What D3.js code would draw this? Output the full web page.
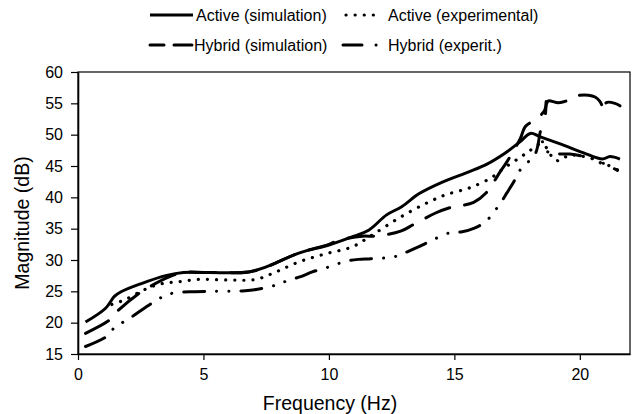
<!DOCTYPE html>
<html><head><meta charset="utf-8">
<script src="https://cdn.jsdelivr.net/npm/d3@7"></script>
<style>
html,body{margin:0;padding:0;background:#fff;}
svg{display:block;font-family:"Liberation Sans",Arial,sans-serif;}
</style></head><body>
<svg id="c" width="633" height="414"></svg>
<script>
// ---- data ----
const seriesNames = ["Active (simulation)", "Active (experimental)", "Hybrid (simulation)", "Hybrid (experit.)"];
const xTicks = [0, 5, 10, 15, 20];
const yTicks = [15, 20, 25, 30, 35, 40, 45, 50, 55, 60];

const activeSim = [[0.3,20.1],[1.1,22.3],[1.45,24.2],[1.7,24.9],[2.5,26.2],[3.5,27.5],[4.2,28.0],[5.2,28.0],[6.8,28.1],[7.5,28.9],[8.8,31.1],[10.0,32.4],[11.0,33.8],[11.6,34.8],[12.3,37.2],[12.9,38.5],[13.6,40.6],[14.5,42.4],[15.6,44.1],[16.3,45.3],[17.0,47.0],[17.6,48.8],[18.03,50.2],[18.4,49.7],[19.3,48.4],[20.15,47.1],[20.9,46.1],[21.2,46.5],[21.6,46.1]];
const activeExp = [[1.35,22.9],[1.84,23.6],[2.37,24.7],[2.9,25.7],[3.43,26.3],[3.96,26.5],[4.8,26.9],[6.16,26.8],[7.09,26.9],[7.89,28.1],[8.81,29.7],[9.88,31.0],[10.93,32.1],[11.73,34.0],[12.79,36.7],[13.85,39.0],[14.65,40.4],[15.6,41.5],[16.5,43.2],[17.03,44.8],[17.56,46.2],[17.96,47.3],[18.43,48.5],[18.7,47.8],[18.95,46.1],[19.2,45.85],[19.55,46.7],[20.0,46.6],[20.5,46.2],[20.88,45.4],[21.2,45.0],[21.5,44.4]];
const hybridSim = [[0.3,18.3],[1.25,20.4],[1.55,21.75],[2.44,24.7],[2.84,25.7],[3.63,27.3],[4.2,28.0],[5.2,28.0],[6.8,28.1],[7.5,28.9],[8.8,31.1],[10.0,32.5],[10.34,33.1],[11.33,33.8],[11.87,33.8],[12.86,34.6],[13.39,35.7],[14.25,37.5],[14.78,38.3],[15.77,39.2],[16.24,40.6],[16.83,44.1],[17.1,45.7],[17.63,49.4],[17.83,51.3],[18.3,52.6],[18.6,53.9],[18.66,55.3],[18.62,52.6],[18.68,55.0],[18.75,55.4],[19.15,55.1],[19.55,55.5],[19.88,56.2],[20.35,56.3],[20.61,56.0],[20.8,55.3],[21.0,53.8],[21.05,55.1],[21.4,55.0],[21.6,54.6]];
const hybridExp = [[0.3,16.2],[1.18,17.9],[1.49,19.4],[1.95,20.4],[2.35,21.5],[3.14,23.6],[3.57,24.5],[4.07,24.85],[4.56,24.95],[5.4,25.0],[6.5,25.05],[6.96,25.2],[7.89,26.0],[8.35,26.7],[8.84,27.3],[9.34,28.1],[10.0,28.9],[10.67,29.8],[11.17,30.1],[11.67,30.2],[12.59,30.5],[13.06,31.2],[13.52,32.0],[13.98,32.9],[14.78,34.3],[15.31,34.5],[15.77,35.05],[16.24,36.1],[16.83,39.05],[17.1,40.75],[17.37,42.5],[17.63,44.4],[18.23,47.0],[18.45,50.6],[18.6,47.6],[19.0,47.0],[19.6,46.9],[20.3,46.4],[20.9,45.5],[21.5,44.3]];

// ---- layout ----
const svg = d3.select("#c");
const x = d3.scaleLinear().domain([0, 22]).range([78, 630]);
const y = d3.scaleLinear().domain([15, 60]).range([354, 72]);

const styles = [
  {w:3, dash:null, cap:"butt"},
  {w:3.2, dash:"0.1,9", cap:"round"},
  {w:3, dash:"26,15", cap:"round"},
  {w:3, dash:"21,12,0.1,12,0.1,12", cap:"round"}
];
const data = [activeSim, activeExp, hybridSim, hybridExp];

// frame
svg.append("rect").attr("x", x(0)).attr("y", y(60)).attr("width", x(22)-x(0)).attr("height", y(15)-y(60))
  .attr("fill","none").attr("stroke","#000").attr("stroke-width",1.2);

// axes
const ax = svg.append("g").attr("transform",`translate(0,${y(15)})`)
  .call(d3.axisBottom(x).tickValues(xTicks).tickSize(6).tickPadding(9).tickSizeOuter(0));
const ay = svg.append("g").attr("transform",`translate(${x(0)},0)`)
  .call(d3.axisLeft(y).tickValues(yTicks).tickSize(7).tickPadding(8).tickSizeOuter(0));
[ax, ay].forEach(g => {
  g.select(".domain").attr("stroke","#000").attr("stroke-width",1.6);
  g.selectAll(".tick line").attr("stroke","#000").attr("stroke-width",1.2);
  g.selectAll(".tick text").attr("fill","#000").style("font-size","16px").style("font-family","Liberation Sans, Arial, sans-serif");
});

// titles
svg.append("text").attr("x",330).attr("y",410).attr("text-anchor","middle")
  .style("font-size","19.5px").text("Frequency (Hz)");
svg.append("text").attr("transform","translate(29,223) rotate(-90)").attr("text-anchor","middle")
  .style("font-size","19.5px").text("Magnitude (dB)");

// lines
const line = d3.line().x(d=>x(d[0])).y(d=>y(d[1])).curve(d3.curveCatmullRom.alpha(0.5));
data.forEach((s,i)=>{
  svg.append("path").datum(s).attr("d", line).attr("fill","none").attr("stroke","#000")
    .attr("stroke-width", styles[i].w).attr("stroke-dasharray", styles[i].dash)
    .attr("stroke-linecap", styles[i].cap).attr("stroke-linejoin","round");
});

// legend
const legendItems = [
  {i:0, x0:150, x1:193, tx:196, ty:15},
  {i:1, x0:346, x1:382, tx:388, ty:15},
  {i:2, x0:150, x1:192, tx:194, ty:45},
  {i:3, x0:343, x1:380, tx:388, ty:45}
];
legendItems.forEach(l=>{
  const st = styles[l.i];
  let dash = st.dash;
  if (l.i===2) dash = "14,10,20,0";
  if (l.i===3) dash = "19,14,0.1,20";
  svg.append("line").attr("x1",l.x0).attr("x2",l.x1).attr("y1",l.ty).attr("y2",l.ty)
    .attr("stroke","#000").attr("stroke-width",st.w).attr("stroke-dasharray",dash).attr("stroke-linecap",st.cap);
  svg.append("text").attr("x",l.tx).attr("y",l.ty).attr("dy","0.35em").style("font-size","16px").text(seriesNames[l.i]);
});
</script>
</body></html>
